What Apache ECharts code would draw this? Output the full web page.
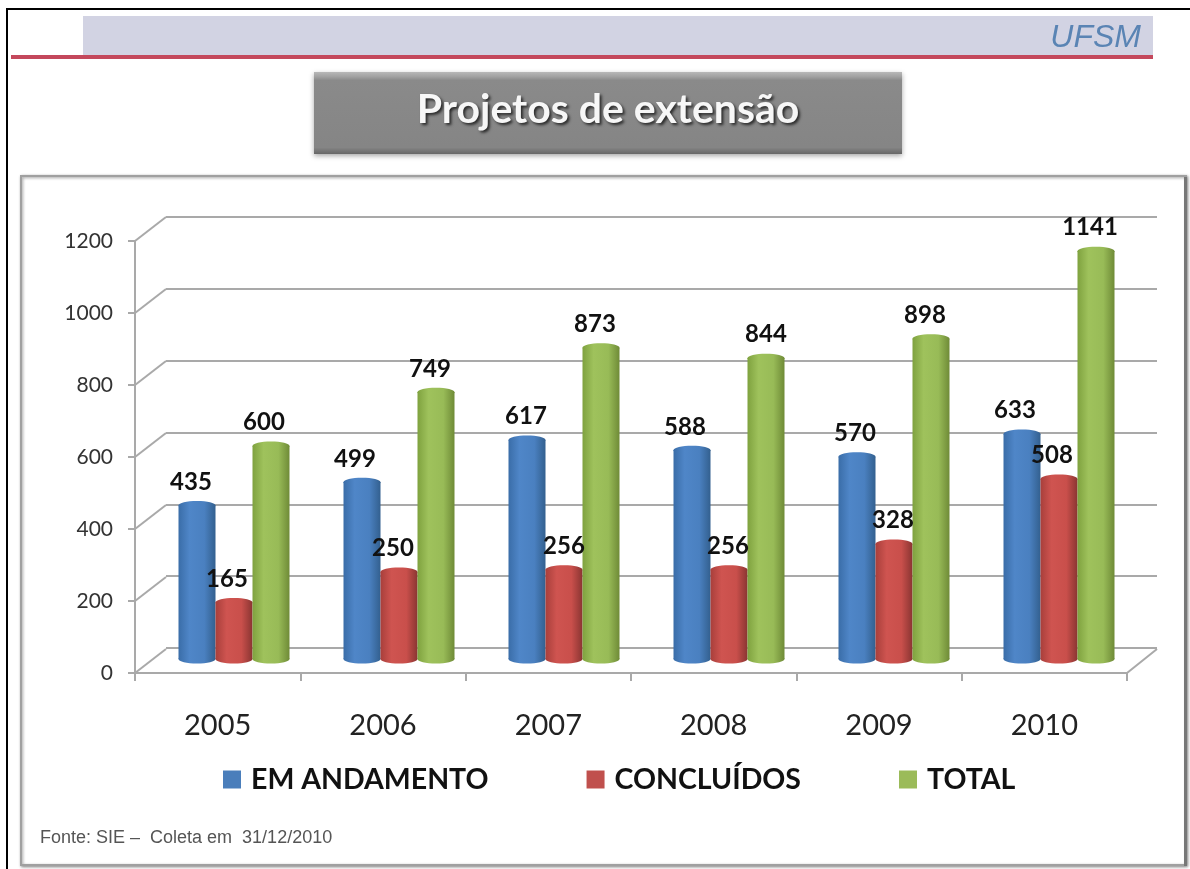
<!DOCTYPE html>
<html><head><meta charset="utf-8">
<style>html,body{margin:0;padding:0;background:#fff}#c{width:1190px;height:869px;filter:blur(.5px)}</style>
<script src="https://cdn.jsdelivr.net/npm/echarts@6/dist/echarts.min.js"></script>
</head><body><div id="c"></div>
<script>
const years = ['2005','2006','2007','2008','2009','2010'];
const emAndamento = [435,499,617,588,570,633];
const concluidos = [165,250,256,256,328,508];
const total = [600,749,873,844,898,1141];
const seriesNames = ['EM ANDAMENTO','CONCLUÍDOS','TOTAL'];
const yMax = 1200, yStep = 200;
const gridValues = [0,200,400,600,800,1000,1200];

const chart = echarts.init(document.getElementById('c'), null, {renderer:'canvas'});
const LINE = '#a9a9a9';
const DEPTH_X = 31, DEPTH_Y = -24, BAR_W = 37, CAP = 4.5, CAP_DROP = 3;
const palettes = [
  {base:'#4a7ebb', stops:['#3a6da8','#4f86c8','#4a80c0','#33608f']},
  {base:'#c0504d', stops:['#a83f3b','#cf5450','#c94f4b','#8a3532']},
  {base:'#9bbb59', stops:['#7fa23f','#9fc25c','#98bb57','#6f8b37']}
];
const labelShift = [[-6,-7,-1,-7,-2,-7],[-7,-6,0,-1,-1,-7],[-7,-6,-6,0,-6,-6]];

function cyl(seriesIdx){
  const p = palettes[seriesIdx];
  const fill = new echarts.graphic.LinearGradient(0,0,1,0,[
    {offset:0,color:p.stops[0]},{offset:.3,color:p.stops[1]},{offset:.7,color:p.stops[2]},{offset:1,color:p.stops[3]}]);
  return function(params, api){
    const i = api.value(0), v = api.value(1);
    const top = api.coord([i,v]), base = api.coord([i,0]);
    const cx = top[0] + (seriesIdx-1)*BAR_W;
    const ty = top[1] + CAP_DROP;
    return {type:'group',children:[
      {type:'ellipse',shape:{cx:cx,cy:base[1],rx:BAR_W/2,ry:CAP},style:{fill:fill}},
      {type:'rect',shape:{x:cx-BAR_W/2,y:ty,width:BAR_W,height:base[1]-ty},style:{fill:fill}},
      {type:'ellipse',shape:{cx:cx,cy:ty,rx:BAR_W/2,ry:CAP},style:{fill:fill}},
      {type:'text',z2:100,style:{text:String(v),x:cx+labelShift[seriesIdx][i],y:ty-CAP-19,
        align:'center',verticalAlign:'middle',fill:'#111',font:'bold 24px Lato'}}
    ]};
  };
}
const barSeries = [emAndamento,concluidos,total].map((vals,k)=>({
  type:'custom',name:seriesNames[k],xAxisIndex:2,yAxisIndex:2,
  itemStyle:{color:palettes[k].base},
  encode:{x:0,y:1},
  renderItem:cyl(k),
  data:vals.map((v,i)=>[i,v]),
  clip:false,silent:true
}));
const slants = {
  type:'custom',xAxisIndex:0,yAxisIndex:0,silent:true,clip:false,z:1,
  encode:{x:0,y:1},
  renderItem:function(params,api){
    const p = api.coord([0,api.value(1)]);
    const halfCat = api.size([1,0])[0]/2;
    const x0 = p[0]-halfCat;
    const kids = [{type:'line',shape:{x1:x0,y1:p[1],x2:x0+DEPTH_X,y2:p[1]+DEPTH_Y},style:{stroke:LINE,lineWidth:2}}];
    if(api.value(1)===0){
      const x1 = x0+halfCat*2*years.length;
      kids.push({type:'line',shape:{x1:x1,y1:p[1],x2:x1+DEPTH_X-1,y2:p[1]+DEPTH_Y},style:{stroke:LINE,lineWidth:2}});
    }
    return {type:'group',children:kids};
  },
  data:gridValues.map(v=>[0,v])
};

chart.setOption({
  animation:false,
  backgroundColor:'#fff',
  tooltip:{show:false},
  legend:{
    show:true,left:218,top:760,itemWidth:18,itemHeight:18,itemGap:98,icon:'rect',selectedMode:false,
    data:seriesNames,
    textStyle:{fontFamily:'Lato',fontWeight:'bold',fontSize:28.5,color:'#111',padding:[0,0,0,5]}
  },
  grid:[
    {left:135,width:992,top:241,height:432},
    {left:166,width:991,top:217,height:431},
    {left:151.5,width:990,top:227,height:432}
  ],
  xAxis:[
    {type:'category',gridIndex:0,data:years,
      axisLine:{show:true,lineStyle:{color:LINE,width:2}},
      axisTick:{show:true,alignWithLabel:false,length:8,lineStyle:{color:LINE,width:2}},
      axisLabel:{color:'#222',fontFamily:'Lato',fontSize:29,margin:38}},
    {type:'category',gridIndex:1,data:years,axisLine:{show:false},axisTick:{show:false},axisLabel:{show:false}},
    {type:'category',gridIndex:2,data:years,axisLine:{show:false},axisTick:{show:false},axisLabel:{show:false}}
  ],
  yAxis:[
    {type:'value',gridIndex:0,min:0,max:yMax,interval:yStep,
      axisLine:{show:true,lineStyle:{color:LINE,width:2}},
      axisTick:{show:true,length:7,lineStyle:{color:LINE,width:2}},
      splitLine:{show:false},
      axisLabel:{color:'#333',fontFamily:'Lato',fontSize:21,margin:22,padding:[4,0,0,0],formatter:v=>String(v)}},
    {type:'value',gridIndex:1,min:0,max:yMax,interval:yStep,
      axisLine:{show:false},axisTick:{show:false},axisLabel:{show:false},
      splitLine:{show:true,lineStyle:{color:LINE,width:2}}},
    {type:'value',gridIndex:2,min:0,max:yMax,interval:yStep,
      axisLine:{show:false},axisTick:{show:false},axisLabel:{show:false},splitLine:{show:false}}
  ],
  series:[slants].concat(barSeries),
  graphic:{elements:[
    {type:'rect',z:-10,shape:{x:6,y:8,width:1184,height:2},style:{fill:'#000'}},
    {type:'rect',z:-10,shape:{x:6,y:8,width:2,height:861},style:{fill:'#000'}},
    {type:'rect',z:-9,shape:{x:83,y:16,width:1070,height:40},style:{fill:'#d2d3e3'}},
    {type:'rect',z:-8,shape:{x:11,y:55,width:1142,height:4},style:{fill:'#c4485c'}},
    {type:'text',z:-7,style:{text:'UFSM',x:1141,y:38,align:'right',verticalAlign:'middle',
      font:'italic 32px "Liberation Sans"',fill:'#5a84b4'}},
    {type:'rect',z:-9,shape:{x:314,y:72,width:588,height:82},
      style:{fill:new echarts.graphic.LinearGradient(0,0,0,1,[
        {offset:0,color:'#b8b8b8'},{offset:.06,color:'#a0a0a0'},{offset:.1,color:'#8a8a8a'},{offset:.92,color:'#858585'},{offset:1,color:'#666'}]),
        shadowBlur:5,shadowColor:'rgba(0,0,0,.35)',shadowOffsetY:2}},
    {type:'text',z:-7,style:{text:'Projetos de extensão',x:608,y:110,align:'center',verticalAlign:'middle',
      font:'bold 41px Lato',fill:'#f7f7f7',textShadowColor:'rgba(0,0,0,.7)',textShadowBlur:3,textShadowOffsetX:2,textShadowOffsetY:2}},
    {type:'rect',z:-9,shape:{x:21,y:176,width:1165,height:689},
      style:{fill:'#fff',stroke:'#a0a0a0',lineWidth:2,shadowBlur:3,shadowColor:'rgba(0,0,0,.4)',shadowOffsetX:1,shadowOffsetY:1}},
    {type:'rect',z:-8,shape:{x:1184,y:177,width:3,height:689},style:{fill:'#777'}},
    {type:'text',z:-7,style:{text:'Fonte: SIE –  Coleta em  31/12/2010',x:40,y:838,verticalAlign:'middle',
      font:'18px "Liberation Sans"',fill:'#555'}}
  ]}
});
</script></body></html>
